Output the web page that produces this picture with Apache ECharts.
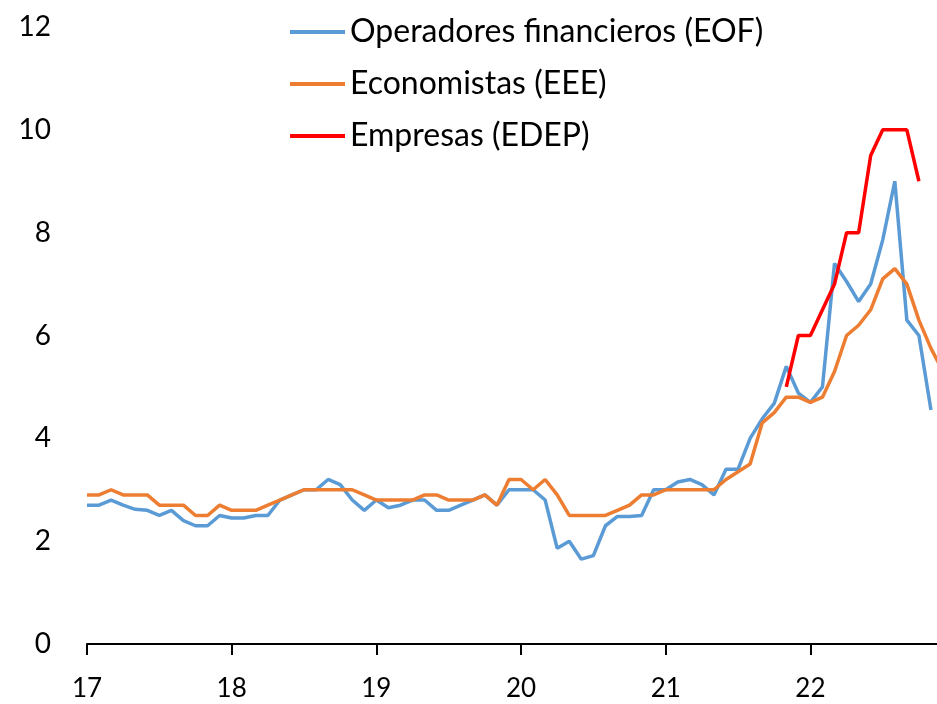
<!DOCTYPE html>
<html>
<head>
<meta charset="utf-8">
<script src="https://cdn.jsdelivr.net/npm/echarts@6/dist/echarts.min.js"></script>
<style>
  html, body { margin: 0; padding: 0; background: #fff; }
  #chart { width: 937px; height: 704px; }
</style>
</head>
<body>
<div id="chart"></div>
<script>
// meses desde ene-17
const startYear = 17;
const xTicks = [0, 12, 24, 36, 48, 60];

const eof = [
  2.7, 2.7, 2.8, 2.7, 2.62, 2.6, 2.5, 2.6, 2.4, 2.3, 2.3, 2.5,
  2.45, 2.45, 2.5, 2.5, 2.8, 2.9, 3.0, 3.0, 3.2, 3.1, 2.8, 2.6,
  2.8, 2.65, 2.7, 2.8, 2.8, 2.6, 2.6, 2.7, 2.8, 2.9, 2.7, 3.0,
  3.0, 3.0, 2.8, 1.86, 2.0, 1.65, 1.72, 2.3, 2.48, 2.48, 2.5, 3.0,
  3.0, 3.15, 3.2, 3.1, 2.9, 3.4, 3.4, 4.0, 4.38, 4.68, 5.4, 4.88,
  4.7, 5.0, 7.4, 7.05, 6.66, 7.0, 7.86, 9.0, 6.3, 6.0, 4.55
];
const eee = [
  2.9, 2.9, 3.0, 2.9, 2.9, 2.9, 2.7, 2.7, 2.7, 2.5, 2.5, 2.7,
  2.6, 2.6, 2.6, 2.7, 2.8, 2.9, 3.0, 3.0, 3.0, 3.0, 3.0, 2.9,
  2.8, 2.8, 2.8, 2.8, 2.9, 2.9, 2.8, 2.8, 2.8, 2.9, 2.7, 3.2,
  3.2, 3.0, 3.2, 2.9, 2.5, 2.5, 2.5, 2.5, 2.6, 2.7, 2.9, 2.9,
  3.0, 3.0, 3.0, 3.0, 3.0, 3.2, 3.35, 3.5, 4.3, 4.5, 4.8, 4.8,
  4.7, 4.8, 5.3, 6.0, 6.2, 6.5, 7.1, 7.3, 7.0, 6.3, 5.75, 5.3
];
const edepStart = 58;
const edep = [5.0, 6.0, 6.0, 6.5, 7.0, 8.0, 8.0, 9.5, 10.0, 10.0, 10.0, 9.0];

const toPairs = (arr, offset = 0) => arr.map((v, i) => [i + offset, v]);

const font = 'Lato';
const chart = echarts.init(document.getElementById('chart'));

chart.setOption({
  animation: false,
  textStyle: { fontFamily: font },
  grid: { left: 87, right: 0, top: 27, bottom: 60 },
  legend: {
    orient: 'vertical',
    left: 290,
    top: 16,
    padding: 0,
    itemWidth: 55,
    itemHeight: 4,
    itemGap: 20,
    icon: 'rect',
    textStyle: { fontSize: 32, lineHeight: 32, color: '#000', fontFamily: font },
    data: ['Operadores financieros (EOF)', 'Economistas (EEE)', 'Empresas (EDEP)']
  },
  xAxis: {
    type: 'value',
    min: 0,
    max: 70.5,
    interval: 12,
    axisLine: { lineStyle: { color: '#000', width: 2 } },
    axisTick: { length: 11, lineStyle: { color: '#000', width: 2 } },
    splitLine: { show: false },
    axisLabel: {
      fontSize: 26, color: '#000', margin: 32, showMaxLabel: false,
      formatter: v => xTicks.includes(v) ? String(startYear + v / 12) : ''
    }
  },
  yAxis: {
    type: 'value',
    min: 0,
    max: 12,
    interval: 2,
    axisLine: { show: false },
    axisTick: { show: false },
    splitLine: { show: false },
    axisLabel: { fontSize: 28, color: '#000', margin: 36 }
  },
  series: [
    {
      name: 'Operadores financieros (EOF)',
      type: 'line',
      data: toPairs(eof),
      showSymbol: false,
      color: '#5B9BD5',
      lineStyle: { width: 3.5 }
    },
    {
      name: 'Economistas (EEE)',
      type: 'line',
      data: toPairs(eee),
      showSymbol: false,
      color: '#ED7D31',
      lineStyle: { width: 3.5 }
    },
    {
      name: 'Empresas (EDEP)',
      type: 'line',
      data: toPairs(edep, edepStart),
      showSymbol: false,
      color: '#FF0000',
      lineStyle: { width: 3.5 }
    }
  ]
});
</script>
</body>
</html>
